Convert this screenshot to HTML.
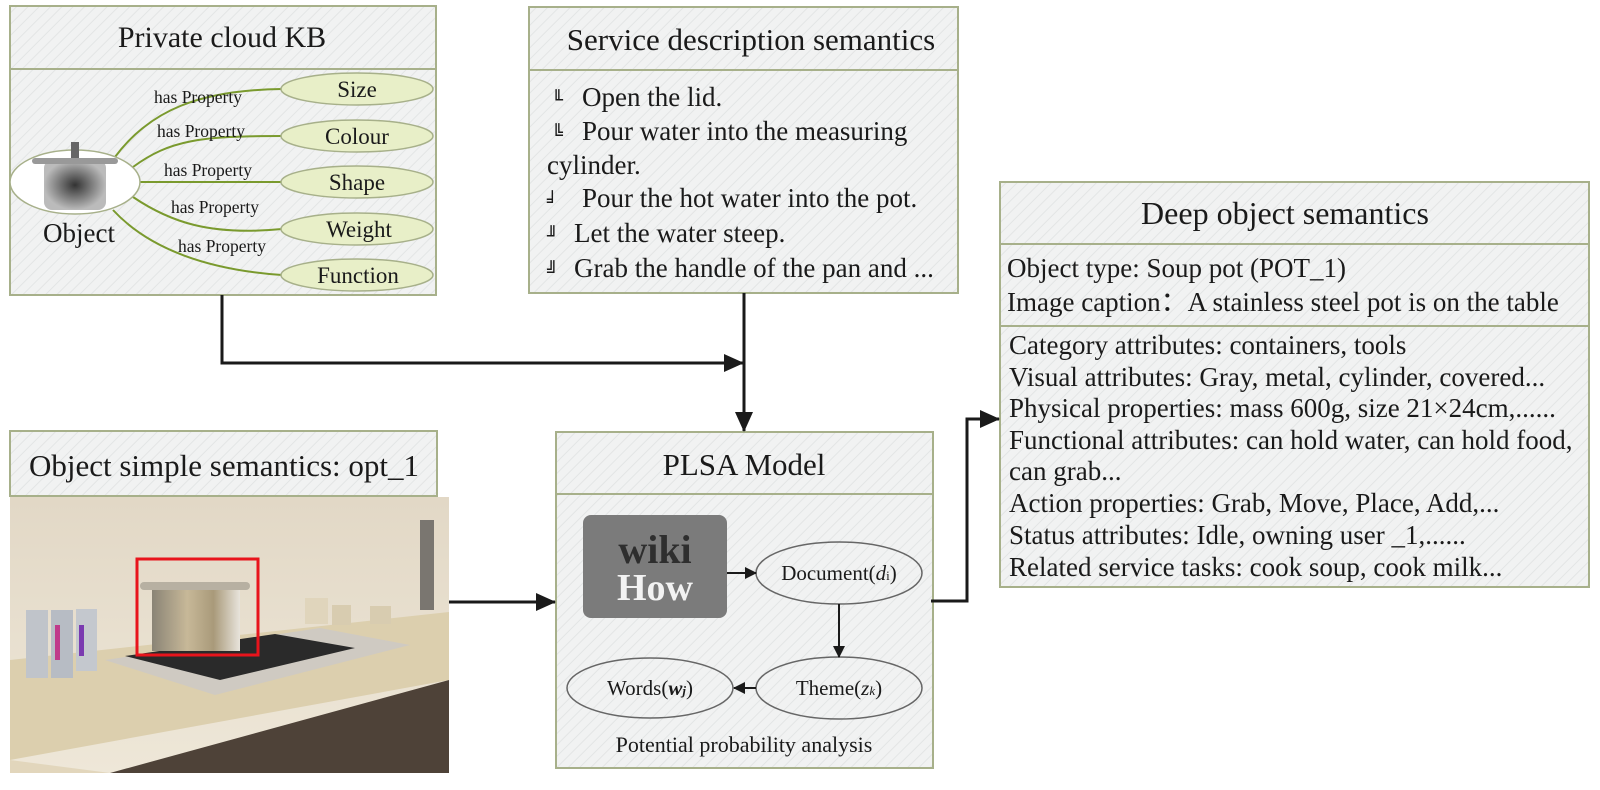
<!DOCTYPE html>
<html><head><meta charset="utf-8"><style>
html,body{margin:0;padding:0;background:#fff;overflow:hidden;}
svg{display:block;}
text{font-family:"Liberation Serif",serif;fill:#1a1a1a;}
</style></head><body>
<svg width="1600" height="790" viewBox="0 0 1600 790" xmlns="http://www.w3.org/2000/svg">
<defs>
<pattern id="hatch" width="8" height="8" patternUnits="userSpaceOnUse" patternTransform="rotate(45)">
<rect width="8" height="8" fill="#f1f2f2"/><line x1="0" y1="0" x2="0" y2="8" stroke="#e3e5e5" stroke-width="2"/>
</pattern>
<linearGradient id="wall" x1="0" y1="0" x2="0" y2="1">
<stop offset="0" stop-color="#e2d8c6"/><stop offset="1" stop-color="#eee7d8"/></linearGradient>
<linearGradient id="pot" x1="0" y1="0" x2="1" y2="0">
<stop offset="0" stop-color="#8a8476"/><stop offset="0.4" stop-color="#c7b898"/><stop offset="0.7" stop-color="#a99a7a"/><stop offset="1" stop-color="#e8e4dc"/></linearGradient>
<radialGradient id="pot2" cx="0.5" cy="0.5" r="0.5">
<stop offset="0" stop-color="#333"/><stop offset="1" stop-color="#bbb"/></radialGradient>
<marker id="ar" markerWidth="12" markerHeight="12" refX="11" refY="6" orient="auto" markerUnits="userSpaceOnUse"><path d="M0,0 L12,6 L0,12 z" fill="#1a1a1a"/></marker>
<marker id="arb" markerWidth="20" markerHeight="20" refX="19" refY="10" orient="auto" markerUnits="userSpaceOnUse"><path d="M0,1 L20,10 L0,19 z" fill="#1a1a1a"/></marker>
</defs>

<!-- Private cloud KB -->
<rect x="10" y="6" width="426" height="289" fill="url(#hatch)" stroke="#a7b08a" stroke-width="2"/>
<line x1="10" y1="69" x2="436" y2="69" stroke="#a7b08a" stroke-width="2"/>
<text x="222" y="47" font-size="30" text-anchor="middle">Private cloud KB</text>
<g stroke="#7a9a2e" stroke-width="2" fill="none">
<path d="M115,157 C150,110 200,90 282,89"/>
<path d="M133,167 C170,140 200,136 282,136"/>
<path d="M140,182 L282,182"/>
<path d="M133,197 C170,222 210,236 282,229"/>
<path d="M113,210 C150,250 210,270 282,275"/>
</g>
<g fill="#e8efc8" stroke="#a7b08a" stroke-width="1.5">
<ellipse cx="357" cy="89" rx="76" ry="16"/>
<ellipse cx="357" cy="136" rx="76" ry="16"/>
<ellipse cx="357" cy="182" rx="76" ry="16"/>
<ellipse cx="357" cy="229" rx="76" ry="16"/>
<ellipse cx="357" cy="275" rx="76" ry="16"/>
</g>
<g font-size="23" text-anchor="middle">
<text x="357" y="97">Size</text><text x="357" y="144">Colour</text><text x="357" y="190">Shape</text><text x="359" y="237">Weight</text><text x="358" y="283">Function</text>
</g>
<g font-size="17.5">
<text x="154" y="103">has Property</text><text x="157" y="137">has Property</text><text x="164" y="176">has Property</text><text x="171" y="213">has Property</text><text x="178" y="252">has Property</text>
</g>
<ellipse cx="75" cy="182" rx="65" ry="32" fill="#fff" stroke="#a7b08a" stroke-width="1.5"/>
<rect x="44" y="160" width="62" height="50" rx="8" fill="url(#pot2)"/>
<rect x="32" y="158" width="86" height="6" rx="3" fill="#999"/>
<rect x="71" y="142" width="8" height="16" fill="#666"/>
<text x="79" y="242" font-size="27" text-anchor="middle">Object</text>

<!-- Service description -->
<rect x="529" y="7" width="429" height="286" fill="url(#hatch)" stroke="#a7b08a" stroke-width="2"/>
<line x1="529" y1="70" x2="958" y2="70" stroke="#a7b08a" stroke-width="2"/>
<text x="751" y="50" font-size="31" text-anchor="middle">Service description semantics</text>
<g font-size="27">
<text x="552" y="106"><tspan font-family="DejaVu Sans" font-size="18">╙</tspan></text><text x="582" y="106">Open the lid.</text>
<text x="552" y="140"><tspan font-family="DejaVu Sans" font-size="18">╚</tspan></text><text x="582" y="140">Pour water into the measuring</text>
<text x="547" y="174">cylinder.</text>
<text x="547" y="207"><tspan font-family="DejaVu Sans" font-size="18">╛</tspan></text><text x="582" y="207">Pour the hot water into the pot.</text>
<text x="547" y="242"><tspan font-family="DejaVu Sans" font-size="18">╜</tspan></text><text x="574" y="242">Let the water steep.</text>
<text x="547" y="277"><tspan font-family="DejaVu Sans" font-size="18">╝</tspan></text><text x="574" y="277">Grab the handle of the pan and ...</text>
</g>

<!-- Deep object semantics -->
<rect x="1000" y="182" width="589" height="405" fill="url(#hatch)" stroke="#a7b08a" stroke-width="2"/>
<line x1="1000" y1="244" x2="1589" y2="244" stroke="#a7b08a" stroke-width="2"/>
<line x1="1000" y1="326" x2="1589" y2="326" stroke="#a7b08a" stroke-width="2"/>
<text x="1285" y="224" font-size="32" text-anchor="middle">Deep object semantics</text>
<g font-size="27">
<text x="1007" y="277">Object type: Soup pot (POT_1)</text>
<text x="1007" y="311">Image caption：A stainless steel pot is on the table</text>
<text x="1009" y="354">Category attributes: containers, tools</text>
<text x="1009" y="386">Visual attributes: Gray, metal, cylinder, covered...</text>
<text x="1009" y="417">Physical properties: mass 600g, size 21×24cm,......</text>
<text x="1009" y="449">Functional attributes: can hold water, can hold food,</text>
<text x="1009" y="480">can grab...</text>
<text x="1009" y="512">Action properties: Grab, Move, Place, Add,...</text>
<text x="1009" y="544">Status attributes: Idle, owning user _1,......</text>
<text x="1009" y="576">Related service tasks: cook soup, cook milk...</text>
</g>

<!-- Object simple semantics -->
<rect x="10" y="431" width="427" height="65" fill="url(#hatch)" stroke="#a7b08a" stroke-width="2"/>
<text x="224" y="476" font-size="31" text-anchor="middle">Object simple semantics: opt_1</text>
<rect x="10" y="497" width="439" height="276" fill="url(#wall)"/>
<path d="M10,660 L449,612 L449,680 L10,760 z" fill="#dccfae"/>
<path d="M110,773 L449,680 L449,773 z" fill="#4e4238"/>
<path d="M10,760 L110,773 L10,773 z" fill="#e2d6bc"/>
<path d="M105,660 L320,628 L410,645 L215,695 z" fill="#cfcac2"/>
<path d="M125,656 L275,634 L355,648 L220,680 z" fill="#2a2a2a"/>
<rect x="152" y="585" width="88" height="66" fill="url(#pot)"/>
<rect x="140" y="582" width="110" height="8" rx="4" fill="#b7b0a2"/>
<rect x="26" y="610" width="22" height="68" fill="#c0c4ca"/><rect x="51" y="610" width="22" height="68" fill="#b7bcc4"/><rect x="76" y="609" width="21" height="62" fill="#c4c8ce"/>
<rect x="55" y="625" width="5" height="35" fill="#c03a8a"/><rect x="79" y="625" width="5" height="31" fill="#7a3ab0"/>
<rect x="305" y="598" width="23" height="26" fill="#e0d5bc"/><rect x="332" y="605" width="19" height="20" fill="#d8ccb0"/><rect x="370" y="606" width="21" height="18" fill="#d8ccb0"/>
<rect x="420" y="520" width="14" height="90" fill="#7a7670"/>
<rect x="137" y="559" width="121" height="96" fill="none" stroke="#e8141c" stroke-width="3"/>

<!-- PLSA -->
<rect x="556" y="432" width="377" height="336" fill="url(#hatch)" stroke="#a7b08a" stroke-width="2"/>
<line x1="556" y1="494" x2="933" y2="494" stroke="#a7b08a" stroke-width="2"/>
<text x="744" y="475" font-size="31" text-anchor="middle">PLSA Model</text>
<rect x="583" y="515" width="144" height="103" rx="8" fill="#7b7b7b"/>
<text x="655" y="563" font-size="40" font-weight="bold" text-anchor="middle" style="fill:#2e2e2e">wiki</text>
<text x="655" y="600" font-size="38" font-weight="bold" text-anchor="middle" style="fill:#f2f2f2">How</text>
<ellipse cx="839" cy="573" rx="83" ry="31" fill="url(#hatch)" stroke="#666" stroke-width="1.5"/>
<ellipse cx="839" cy="688" rx="83" ry="31" fill="url(#hatch)" stroke="#666" stroke-width="1.5"/>
<ellipse cx="650" cy="688" rx="83" ry="30" fill="url(#hatch)" stroke="#666" stroke-width="1.5"/>
<text x="839" y="580" font-size="21" text-anchor="middle">Document(<tspan font-style="italic">d</tspan><tspan font-size="13">i</tspan>)</text>
<text x="839" y="695" font-size="21" text-anchor="middle">Theme(<tspan font-style="italic">z</tspan><tspan font-size="13" font-style="italic">k</tspan>)</text>
<text x="650" y="695" font-size="21" text-anchor="middle">Words(<tspan font-style="italic" font-weight="bold">w</tspan><tspan font-size="13" font-style="italic" font-weight="bold">j</tspan>)</text>
<g stroke="#1a1a1a" stroke-width="2" fill="none">
<line x1="727" y1="573" x2="756" y2="573" marker-end="url(#ar)"/>
<line x1="839" y1="604" x2="839" y2="657" marker-end="url(#ar)"/>
<line x1="756" y1="688" x2="734" y2="688" marker-end="url(#ar)"/>
</g>
<text x="744" y="752" font-size="22" text-anchor="middle">Potential probability analysis</text>

<!-- main connectors -->
<g stroke="#1a1a1a" stroke-width="3" fill="none">
<polyline points="222,295 222,363 743,363" marker-end="url(#arb)"/>
<line x1="744" y1="293" x2="744" y2="431" marker-end="url(#arb)"/>
<line x1="449" y1="602" x2="555" y2="602" marker-end="url(#arb)"/>
<polyline points="931,601 967,601 967,419 999,419" marker-end="url(#arb)"/>
</g>
</svg>
</body></html>
